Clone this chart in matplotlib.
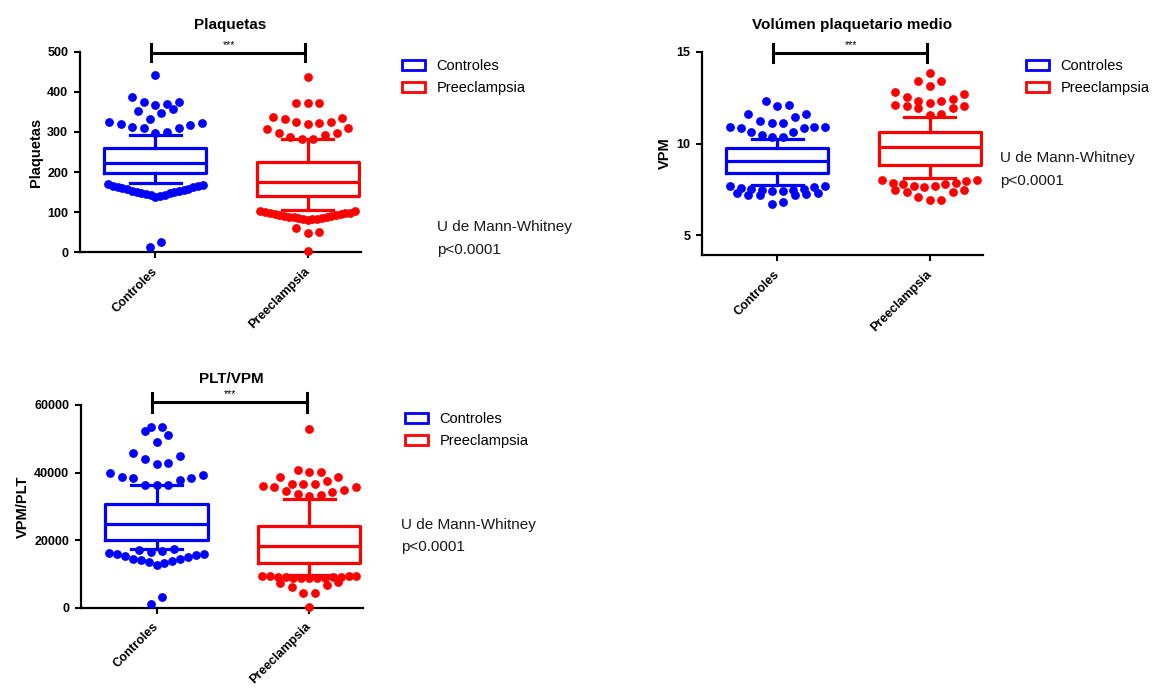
import numpy as np
import matplotlib
matplotlib.use('Agg')
import matplotlib.pyplot as plt
from matplotlib.patches import Patch

plt.rcParams['font.family'] = ['Liberation Sans', 'DejaVu Sans']

groups = ['Controles', 'Preeclampsia']
colors = ['#0000ff', '#ff0000']

# box stats (10-90 percentile whiskers): q1, med, q3, whislo, whishi
plt_box_ctrl = [197, 222, 261, 173.5, 293]
plt_box_pe = [140, 176, 224, 105, 282]
vpm_box_ctrl = [8.40, 9.04, 9.73, 7.73, 10.26]
vpm_box_pe = [8.82, 9.82, 10.64, 8.13, 11.45]
pv_box_ctrl = [19950, 24780, 30700, 17470, 36230]
pv_box_pe = [13130, 18260, 24270, 9770, 32270]

# points outside the whiskers
plt_out_ctrl = [12, 26,
                139, 141, 142, 144, 145, 147, 148, 150, 151, 153, 154, 156, 157,
                159, 160, 162, 163, 165, 166, 168, 170,
                297, 301, 309, 309, 312, 317, 319, 322, 325,
                332, 348, 352, 358, 366, 370, 375, 375, 386, 441]
plt_out_pe = [2.5, 48, 50, 60,
              81, 82, 83, 84, 85, 86, 87, 88, 89, 90, 91, 92, 94, 95, 96, 97,
              98, 99, 101, 102, 104,
              282, 282, 288, 293, 297, 298, 308, 310,
              319, 323, 325, 325, 332, 334, 336, 371, 371, 371, 436]
vpm_out_ctrl = [6.72, 6.84, 7.20, 7.21, 7.22, 7.23, 7.31, 7.33,
                7.40, 7.42, 7.46, 7.48, 7.52, 7.55, 7.60, 7.64, 7.68, 7.70,
                10.34, 10.34, 10.44, 10.62, 10.62, 10.82, 10.82, 10.91, 10.91, 10.91,
                11.11, 11.11, 11.20, 11.42, 11.62, 11.62, 12.03, 12.11, 12.34]
vpm_out_pe = [6.91, 6.92, 7.10, 7.36, 7.38, 7.46, 7.47,
              7.64, 7.71, 7.71, 7.77, 7.77, 7.86, 7.86, 7.95, 8.01, 8.02,
              11.58, 11.63, 11.91, 11.91, 12.03, 12.03, 12.11,
              12.22, 12.34, 12.34, 12.43, 12.54, 12.72, 12.83,
              13.12, 13.43, 13.43, 13.85]
pv_out_ctrl = [1000, 3080,
               12750, 13300, 13500, 13900, 14100, 14300, 14500, 15100, 15300,
               15600, 15800, 16000, 16200,
               16500, 16700, 17100, 17400,
               36320, 36320, 36320, 37800, 38300, 38300, 38600, 39280, 39780,
               42440, 42930, 43930, 44900, 45900,
               49050, 51030, 52300, 53400, 53400]
pv_out_pe = [300, 4260, 4300, 6030, 6720, 7400, 7700,
             8700, 8750, 8800, 8850, 8900, 8950, 9000, 9100, 9200, 9300, 9350,
             9400, 9500,
             33000, 33360, 33660, 34160, 34630, 34840, 35640, 35640, 36020,
             36700, 36700, 36700, 37600, 38600, 38780,
             40260, 40260, 40760, 52900]

W, H = 1166, 698
fig = plt.figure(figsize=(W / 100, H / 100), dpi=100)


def swarm(vals, bin_h, step=0.076, max_w=0.62):
    # GraphPad-like scatter: rows of nearby values, lowest in the middle
    vals = np.sort(np.asarray(vals, dtype=float))
    xs = np.zeros(len(vals))
    i = 0
    while i < len(vals):
        j = i
        while j < len(vals) and vals[j] - vals[i] < bin_h:
            j += 1
        n = j - i
        d = step if n < 2 else min(step, max_w / (n - 1))
        for k in range(n):
            sign = 1 if k % 2 else -1
            if n % 2:
                slot = ((k + 1) // 2) * sign
            else:
                slot = (k // 2 + 0.5) * sign
            xs[i + k] = slot * d
        i = j
    return xs, vals


def panel(rect, title, ylabel, ylim, yticks, boxes, outs, bin_h, bar, leg_xy, mw_xy):
    l, t, r, b = rect
    ax = fig.add_axes([l / W, 1 - b / H, (r - l) / W, (b - t) / H])
    ax.set_xlim(-0.495, 1.35)
    ax.set_ylim(*ylim)
    for pos, (bx, out, c) in enumerate(zip(boxes, outs, colors)):
        st = dict(q1=bx[0], med=bx[1], q3=bx[2], whislo=bx[3], whishi=bx[4], fliers=[])
        lp = dict(color=c, linewidth=2.3)
        ax.bxp([st], positions=[pos], widths=0.67, capwidths=0.335, showfliers=False,
               boxprops=lp, whiskerprops=lp, capprops=lp, medianprops=lp,
               manage_ticks=False)
        dx, v = swarm(out, bin_h)
        ax.scatter(pos + dx, v, s=40, color=c, linewidths=0, zorder=3, clip_on=False)

    yb, ylo, yhi = bar
    ax.plot([-0.03, 0.985], [yb, yb], color='black', lw=2.2, clip_on=False)
    for xx in (-0.03, 0.985):
        ax.plot([xx, xx], [ylo, yhi], color='black', lw=2.2, clip_on=False)
    ax.annotate('***', xy=(0.48, yb), xytext=(0, 1.5), textcoords='offset points',
                ha='center', va='bottom', fontsize=7.5, annotation_clip=False)

    ax.spines['top'].set_visible(False)
    ax.spines['right'].set_visible(False)
    for s in ('left', 'bottom'):
        ax.spines[s].set_linewidth(1.6)
    ax.set_yticks(yticks)
    ax.set_xticks([0, 1])
    ax.set_xticklabels(groups, rotation=45, ha='right', va='center',
                       rotation_mode='anchor', fontweight='bold', fontsize=9)
    ax.tick_params(axis='both', direction='out', length=4.5, width=1.5, labelsize=9)
    ax.tick_params(axis='x', pad=8)
    ax.tick_params(axis='y', pad=4)
    for lab in ax.get_yticklabels():
        lab.set_fontweight('bold')
    ax.set_ylabel(ylabel, fontweight='bold', fontsize=10.5, labelpad=3)
    ax.set_title(title, fontweight='bold', fontsize=11, x=0.535, pad=16)

    handles = [Patch(facecolor='white', edgecolor=c, linewidth=2) for c in colors]
    fig.legend(handles, groups, loc='upper left',
               bbox_to_anchor=(leg_xy[0] / W, 1 - leg_xy[1] / H),
               frameon=False, fontsize=10.5, handlelength=1.6, handleheight=0.75,
               handletextpad=0.75, labelspacing=0.55, borderpad=0, borderaxespad=0)
    fig.text(mw_xy[0] / W, 1 - mw_xy[1] / H, 'U de Mann-Whitney',
             fontsize=11, va='center', ha='left', color='#1a1a1a')
    fig.text(mw_xy[0] / W, 1 - (mw_xy[1] + 22.5) / H, 'p<0.0001',
             fontsize=11, va='center', ha='left', color='#1a1a1a')
    return ax


panel((80, 51.7, 361, 252.3), 'Plaquetas', 'Plaquetas', (0, 500), range(0, 501, 100),
      [plt_box_ctrl, plt_box_pe], [plt_out_ctrl, plt_out_pe], 32,
      (498, 476, 520), (402, 59), (437, 227.5))
panel((702, 51.7, 983, 255), 'Volúmen plaquetario medio', 'VPM', (3.93, 15), [5, 10, 15],
      [vpm_box_ctrl, vpm_box_pe], [vpm_out_ctrl, vpm_out_pe], 0.62,
      (14.95, 14.46, 15.4), (1026, 59), (1000, 158))
panel((81, 405, 362.6, 607.7), 'PLT/VPM', 'VPM/PLT', (0, 60000), range(0, 60001, 20000),
      [pv_box_ctrl, pv_box_pe], [pv_out_ctrl, pv_out_pe], 3500,
      (61000, 58000, 63500), (405, 412), (401, 525))

fig.savefig('out.png', dpi=100)
